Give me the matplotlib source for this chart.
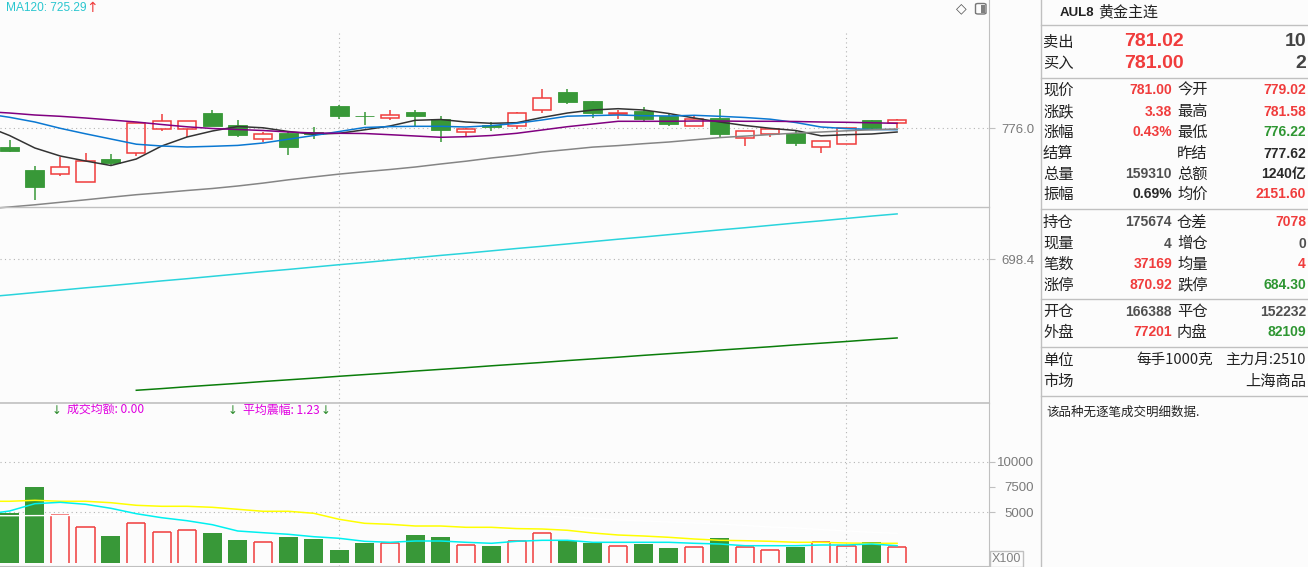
import matplotlib
matplotlib.use('Agg')
import matplotlib.pyplot as plt
import numpy as np
from matplotlib.patches import Rectangle, FancyBboxPatch
from matplotlib.lines import Line2D

# ---------------- data ----------------
opens = [765.10, 751.30, 748.75, 744.37, 757.81, 761.19, 775.41, 775.41, 785.06, 777.95,
         769.48, 773.22, 773.81, 789.21, 783.46, 782.28, 785.66, 781.51, 774.10, 777.95,
         777.18, 786.66, 797.50, 792.17, 784.29, 786.25, 783.11, 777.18, 782.10, 770.08,
         772.45, 773.04, 764.74, 766.52, 780.92, 779.02]
highs = [769.07, 753.67, 759.00, 761.37, 760.78, 779.00, 784.47, 780.20, 786.84, 781.09,
         773.81, 774.40, 776.59, 789.80, 785.48, 786.84, 786.84, 783.11, 776.36, 779.73,
         785.66, 799.28, 799.28, 792.20, 786.84, 788.62, 784.89, 783.29, 787.43, 774.30,
         775.70, 774.40, 768.40, 776.10, 781.00, 781.58]
lows = [762.14, 733.52, 747.92, 744.30, 753.67, 759.77, 774.58, 770.67, 777.50, 771.02,
        768.06, 760.18, 769.48, 781.51, 778.13, 781.09, 777.36, 768.06, 770.85, 774.58,
        775.76, 785.24, 790.57, 782.28, 781.69, 780.32, 777.54, 777.10, 770.08, 765.69,
        771.02, 765.69, 761.55, 766.50, 775.76, 776.22]
closes = [762.73, 741.40, 753.07, 756.45, 755.62, 778.96, 780.15, 780.15, 777.54, 772.21,
          772.45, 765.10, 772.62, 783.46, 783.11, 783.70, 783.46, 775.17, 775.41, 776.95,
          784.89, 793.77, 791.76, 785.24, 784.89, 781.69, 778.73, 781.33, 772.80, 774.22,
          775.59, 767.47, 768.30, 776.00, 776.36, 781.00]
volumes = [4970, 7450, 4750, 3500, 2650, 3990, 3010, 3300, 2940, 2250,
           2030, 2550, 2350, 1270, 1960, 1930, 2740, 2550, 1730, 1670,
           2150, 2940, 2190, 1990, 1670, 1900, 1500, 1570, 2450, 1570,
           1270, 1600, 2060, 1670, 2060, 1570]

# moving averages (first value belongs to the bar just left of the window)
ma5 = [777.70, 771.73, 764.33, 759.59, 756.63, 753.96, 757.81, 765.51, 770.85, 774.40,
       777.07, 776.30, 774.10, 772.50, 773.04, 775.11, 777.36, 780.74, 781.21, 779.73,
       778.96, 779.32, 782.40, 785.06, 786.84, 787.61, 786.84, 784.77, 782.10, 779.73,
       777.66, 776.00, 774.70, 771.56, 772.21, 772.62, 773.81]
ma10 = [784.77, 782.52, 779.73, 776.00, 772.74, 769.66, 766.58, 765.51, 764.92, 765.34,
        765.87, 767.29, 769.54, 771.73, 774.10, 776.47, 777.01, 777.18, 777.18, 776.77,
        777.60, 778.96, 780.92, 783.17, 783.52, 783.88, 783.46, 783.29, 783.70, 783.11,
        782.40, 781.39, 779.44, 776.77, 775.82, 775.29, 775.17]
ma20 = [785.95, 785.06, 783.88, 783.11, 782.10, 780.92, 779.73, 778.25, 776.89, 775.88,
        775.29, 774.70, 773.81, 773.22, 773.04, 772.92, 772.21, 771.44, 770.67, 771.02,
        771.73, 773.04, 774.99, 776.95, 778.55, 780.15, 780.15, 780.15, 780.32, 780.32,
        780.15, 780.15, 780.03, 779.73, 779.55, 779.26, 778.96]
ma60 = [728.19, 729.38, 730.68, 732.16, 733.64, 735.18, 736.66, 737.85, 739.15, 740.34,
        741.82, 743.54, 745.49, 747.21, 748.87, 750.29, 751.59, 753.07, 754.85, 756.51,
        758.41, 760.01, 761.96, 763.38, 764.86, 765.75, 766.88, 767.88, 769.19, 770.49,
        771.38, 772.27, 773.16, 773.81, 774.52, 775.11, 775.59]
ma120 = [676.0, 677.3, 678.7, 680.1, 681.5, 682.8, 684.2, 685.6, 686.9, 688.3,
         689.7, 691.1, 692.4, 693.8, 695.2, 696.5, 697.9, 699.3, 700.7, 702.0,
         703.4, 704.8, 706.1, 707.5, 708.9, 710.3, 711.6, 713.0, 714.4, 715.8,
         717.1, 718.5, 719.9, 721.2, 722.6, 724.0, 725.29]
ma250 = [np.nan] * 5 + [620.8, 621.8, 622.9, 623.9, 624.9, 626.0, 627.0, 628.0, 629.1, 630.1,
                        631.1, 632.2, 633.2, 634.2, 635.3, 636.3, 637.3, 638.4, 639.4, 640.4,
                        641.5, 642.5, 643.5, 644.6, 645.6, 646.6, 647.7, 648.7, 649.7, 650.8,
                        651.8]
vol_ma_white = [4660, 4660, 4670, 4680, 4690, 4700, 4700, 4710, 4710, 4720,
                4720, 4720, 4730, 4730, 4730, 4730, 4730, 4730, 4730, 4730,
                4730, 4700, 4631, 4532, 4384, 4236, 4138, 4039, 3941, 3842,
                3695, 3547, 3448, 3300, 3153, 3025, 2926]
vol_ma_yellow = [6080, 6080, 6177, 6080, 6080, 5941, 5685, 5586, 5586, 5488,
                 5291, 5094, 5094, 4897, 4305, 3911, 3813, 3645, 3645, 3517,
                 3517, 3389, 3350, 3222, 2956, 2759, 2660, 2532, 2365, 2236,
                 2197, 2138, 2039, 2039, 1970, 1941, 1941]
vol_ma_cyan = [4780, 5123, 5842, 5980, 5783, 5389, 4857, 4463, 4167, 3773,
               3153, 2985, 2828, 2591, 2433, 2138, 2039, 2167, 2167, 2039,
               1941, 2138, 2236, 2236, 2039, 2039, 2039, 2039, 1941, 1872,
               1704, 1704, 1704, 1773, 1773, 1872, 1704]

price_ticks = [776.0, 698.4]
vol_ticks = [10000, 7500, 5000]
vol_grid = [10000, 5000]
month_idx = [13, 33]

# right-hand quote panel
quote_rows_y = [90, 111.5, 132.5, 153.5, 174, 194, 222, 243.5, 264, 285, 311.5, 332.5]
quote_lab1 = ['现价', '涨跌', '涨幅', '结算', '总量', '振幅', '持仓', '现量', '笔数', '涨停', '开仓', '外盘']
quote_val1 = ['781.00', '3.38', '0.43%', '', '159310', '0.69%', '175674', '4', '37169', '870.92', '166388', '77201']
quote_col1 = ['r', 'r', 'r', 'k', 'g0', 'k', 'g0', 'g0', 'r', 'r', 'g0', 'r']
quote_lab2 = ['今开', '最高', '最低', '昨结', '总额', '均价', '仓差', '增仓', '均量', '跌停', '平仓', '内盘']
quote_val2 = ['779.02', '781.58', '776.22', '777.62', '1240亿', '2151.60', '7078', '0', '4', '684.30', '152232', '82109']
quote_col2 = ['r', 'r', 'g', 'k', 'k', 'r', 'r', 'g0', 'r', 'g', 'g0', 'g']

# ---------------- style ----------------
plt.rcParams['font.family'] = ['Liberation Sans', 'Noto Sans CJK SC', 'DejaVu Sans']
W, H = 1308, 567
BG = '#fcfcfc'
RED = '#f03c3c'
GREEN = '#389838'
QGREEN = '#2e9632'
GRID = '#b4b4b4'
AXC = '#c0c0c0'
CJK = ['Noto Sans CJK SC', 'DejaVu Sans']
col_map = {'r': RED, 'g': QGREEN, 'k': '#2a2a2a', 'g0': '#505050'}


def X(p):
    return p / W


def Y(p):
    return 1 - p / H


fig = plt.figure(figsize=(W / 100, H / 100), dpi=100)
fig.patch.set_facecolor(BG)

ax = fig.add_axes([0, Y(403), X(989), 403 / H])
vax = fig.add_axes([0, Y(566), X(989), (566 - 403) / H])

for a in (ax, vax):
    a.set_facecolor(BG)
    for s in ('left', 'top'):
        a.spines[s].set_visible(False)
    a.spines['right'].set_color(AXC)
    a.spines['bottom'].set_color(AXC)
    a.yaxis.tick_right()
    a.set_xticks([])
    a.tick_params(axis='y', length=4.5, width=0.8, color=AXC,
                  labelcolor='#7a7a7a', labelsize=9.5, pad=28)

# x mapping: bar i centred at pixel 9.5 + 25.36*i
xlo = -9.5 / 25.36
xhi = (989 - 9.5) / 25.36
ax.set_xlim(xlo, xhi)
vax.set_xlim(xlo, xhi)
ppx = 0.5924  # price per pixel
ax.set_ylim(776.0 - (403 - 128.3) * ppx, 776.0 + 128.3 * ppx)
vpx = 10000 / 101.5
vax.set_ylim(-(566 - 563) * vpx, (563 - 403) * vpx)

ax.set_yticks(price_ticks)
ax.set_yticklabels([f'{t:.1f}' for t in price_ticks])
vax.set_yticks(vol_ticks)
vax.set_yticklabels([str(t) for t in vol_ticks])
for a in (ax, vax):
    for lbl in a.get_yticklabels():
        lbl.set_horizontalalignment('right')

# grid
dot = (0, (1, 3))
for t in price_ticks:
    ax.axhline(t, color=GRID, ls=dot, lw=0.8, zorder=1)
for t in vol_grid:
    vax.axhline(t, color=GRID, ls=dot, lw=0.8, zorder=1)
for g in month_idx:
    ax.axvline(g, ymin=0, ymax=1 - 33 / 403, color=GRID, ls=dot, lw=0.8, zorder=1)
    vax.axvline(g, color=GRID, ls=dot, lw=0.8, zorder=1)

# candles
idx = np.arange(len(opens))
for i in idx:
    o, h, l, c = opens[i], highs[i], lows[i], closes[i]
    if c >= o:
        ax.add_patch(Rectangle((i - 0.36, o), 0.72, c - o, fill=False, ec=RED, lw=1.1, zorder=3))
        if h > c:
            ax.vlines(i, c, h, color=RED, lw=1.1, zorder=3)
        if l < o:
            ax.vlines(i, l, o, color=RED, lw=1.1, zorder=3)
    else:
        ax.vlines(i, l, h, color=GREEN, lw=1.1, zorder=2)
        ax.bar(i, o - c, bottom=c, width=0.75, color=GREEN, ec=GREEN, lw=0.6, zorder=3)

xm = np.arange(-1, len(opens))
ax.plot(xm, ma5, color='#333333', lw=1.1, zorder=4)
ax.plot(xm, ma10, color='#0a78d2', lw=1.1, zorder=4)
ax.plot(xm, ma20, color='#800080', lw=1.1, zorder=4)
ax.plot(xm, ma60, color='#858585', lw=1.1, zorder=4)
ax.plot(xm, ma120, color='#2ad4dc', lw=1.1, zorder=4)
ax.plot(idx, ma250, color='#0a7d0a', lw=1.1, zorder=4)

# volume bars
for i, v in enumerate(volumes):
    if closes[i] >= opens[i]:
        vax.vlines([i - 0.36, i + 0.36], 0, v, color=RED, lw=1.1, zorder=3)
        vax.hlines(v, i - 0.36, i + 0.36, color=RED, lw=1.1, zorder=3)
    else:
        vax.bar(i, v, width=0.75, color=GREEN, lw=0, zorder=3)
vax.plot(xm, vol_ma_white, color='#ffffff', lw=1.0, zorder=4)
vax.plot(xm, vol_ma_yellow, color='#ffff00', lw=1.1, zorder=4)
vax.plot(xm, vol_ma_cyan, color='#00f0f0', lw=1.1, zorder=4)

# divider lines
fig.add_artist(Line2D([0, X(989)], [Y(206.5)] * 2, color=AXC, lw=1.0, zorder=10))
fig.add_artist(Line2D([0, X(989)], [Y(403)] * 2, color=AXC, lw=1.2, zorder=10))
fig.add_artist(Line2D([X(1040.5)] * 2, [0, 1], color=AXC, lw=1.0))
for yy in (25, 77.5, 208.5, 298.5, 347, 395.5):
    fig.add_artist(Line2D([X(1040.5), 1], [Y(yy)] * 2, color=AXC, lw=1.0))

# chart titles
fig.text(X(6), Y(8), 'MA120: 725.29', color='#2ac6cf', fontsize=8.6, va='center', ha='left')
fig.text(X(92), Y(8), '↑', color=RED, fontsize=10, va='center', ha='center', family=['DejaVu Sans'])
fig.text(X(56.5), Y(410), '↓', color='#2a8a2a', fontsize=8.5, va='center', ha='center', family=['DejaVu Sans'])
fig.text(X(67), Y(410), '成交均额: 0.00', color='#e000e0', fontsize=8.6, va='center', ha='left',
         family=CJK)
fig.text(X(232.5), Y(410), '↓', color='#2a8a2a', fontsize=8.5, va='center', ha='center', family=['DejaVu Sans'])
fig.text(X(243), Y(410), '平均震幅: 1.23', color='#e000e0', fontsize=8.6, va='center', ha='left',
         family=CJK)
fig.text(X(326), Y(410), '↓', color='#2a8a2a', fontsize=8.5, va='center', ha='center', family=['DejaVu Sans'])

# top-right icons
fig.text(X(961.5), Y(8.5), '◇', color='#555555', fontsize=10, va='center', ha='center',
         family=['DejaVu Sans'])
fig.add_artist(FancyBboxPatch((X(975.5), Y(14)), X(10.5), 10.5 / H,
                              boxstyle='round,pad=0,rounding_size=0.002',
                              fc='none', ec='#777777', lw=1.0, transform=fig.transFigure))
fig.add_artist(Rectangle((X(980.5), Y(12.5)), X(4), 7.5 / H, fc='#808080', ec='none',
                         transform=fig.transFigure))

# X100 box
fig.add_artist(Rectangle((X(990), Y(567)), X(33), 16 / H, fc=BG, ec=AXC, lw=1.0,
                         transform=fig.transFigure))
fig.text(X(1006.5), Y(559), 'X100', color='#808080', fontsize=9, va='center', ha='center')

# quote panel
fig.text(X(1060), Y(12.5), 'AUL8', color='#222222', fontsize=9.5, weight='bold', va='center', ha='left')
fig.text(X(1098), Y(12.5), '黄金主连', color='#222222', fontsize=10.8, va='center', ha='left', family=CJK)

fig.text(X(1043), Y(42), '卖出', color='#222222', fontsize=11, va='center', ha='left', family=CJK)
fig.text(X(1043), Y(63), '买入', color='#222222', fontsize=11, va='center', ha='left', family=CJK)
fig.text(X(1184), Y(42), '781.02', color=RED, fontsize=14, weight='bold', va='center', ha='right')
fig.text(X(1184), Y(63), '781.00', color=RED, fontsize=14, weight='bold', va='center', ha='right')
fig.text(X(1306), Y(42), '10', color='#444444', fontsize=14, weight='bold', va='center', ha='right')
fig.text(X(1306), Y(63), '2', color='#444444', fontsize=14, weight='bold', va='center', ha='right')

for yy, l1, v1, c1, l2, v2, c2 in zip(quote_rows_y, quote_lab1, quote_val1, quote_col1,
                                       quote_lab2, quote_val2, quote_col2):
    fig.text(X(1043), Y(yy), l1, color='#222222', fontsize=11, va='center', ha='left', family=CJK)
    fig.text(X(1177), Y(yy), l2, color='#222222', fontsize=11, va='center', ha='left', family=CJK)
    if v1:
        fig.text(X(1172), Y(yy), v1, color=col_map[c1], fontsize=10, weight='bold',
                 va='center', ha='right')
    fig.text(X(1306), Y(yy), v2, color=col_map[c2], fontsize=10, weight='bold',
             va='center', ha='right', family=['Liberation Sans', 'Noto Sans CJK SC'])

fig.text(X(1043), Y(360), '单位', color='#222222', fontsize=11, va='center', ha='left', family=CJK)
fig.text(X(1213), Y(360), '每手1000克', color='#222222', fontsize=10.5, va='center', ha='right',
         family=['Noto Sans CJK SC'])
fig.text(X(1306), Y(360), '主力月:2510', color='#222222', fontsize=10.5, va='center', ha='right',
         family=['Noto Sans CJK SC'])
fig.text(X(1043), Y(381.5), '市场', color='#222222', fontsize=11, va='center', ha='left', family=CJK)
fig.text(X(1306), Y(381.5), '上海商品', color='#222222', fontsize=11, va='center', ha='right', family=CJK)
fig.text(X(1046), Y(412), '该品种无逐笔成交明细数据.', color='#222222', fontsize=9, va='center', ha='left',
         family=CJK)

fig.savefig('out.png', dpi=100, facecolor=BG)
